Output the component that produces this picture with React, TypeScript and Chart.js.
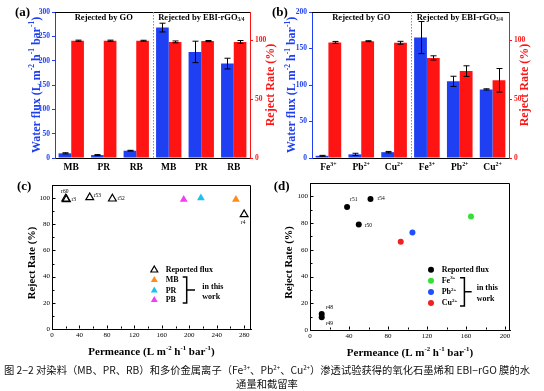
import React, { useEffect, useRef } from 'react';
import { Chart, registerables } from 'chart.js';

Chart.register(...registerables);

const SERIF = '"Liberation Serif", "Times New Roman", serif';
const BLUE = '#1e3ff2';
const RED = '#ff1414';
const BLACK = '#000000';

// ---------------- Data ----------------
// (a) dyes
const dyeCategories = ['MB', 'PR', 'RB', 'MB', 'PR', 'RB'];
const dyeFlux = [9.6, 6, 15, 268, 218, 194];
const dyeFluxErr = [1.2, 1, 0.8, 9, 22, 11];
const dyeReject = [99.6, 99.6, 99.6, 98.6, 99.3, 98.6];
const dyeRejectErr = [0.5, 0.5, 0.4, 0.8, 0.5, 1.2];
const dyeFluxTicks = [0, 50, 100, 150, 200, 250, 300];

// (b) metal ions
const ionCategories = ['Fe^{3+}', 'Pb^{2+}', 'Cu^{2+}', 'Fe^{3+}', 'Pb^{2+}', 'Cu^{2+}'];
const ionFlux = [3, 5, 8, 165, 105, 94];
const ionFluxErr = [0.6, 1.5, 1, 22, 7, 0.8];
const ionReject = [98.2, 99.2, 97.9, 85, 73.8, 66];
const ionRejectErr = [0.8, 0.4, 1.2, 1.8, 4.5, 10];
const ionFluxTicks = [0, 50, 100, 150, 200];

const rejectTicks = [0, 50, 100];
const groupLabels = ['Rejected by GO', 'Rejected by EBI-rGO_{3/4}'];
const fluxTitle = 'Water flux (L m^{-2} h^{-1} bar^{-1})';
const rejectTitle = 'Reject Rate (%)';
const permTitle = 'Permeance (L m^{-2} h^{-1} bar^{-1})';

// (c) dye comparison
const dyeRefPerm = [20, 21, 55, 88, 280];
const dyeRefReject = [99.5, 99, 100.5, 99.5, 87.5];
const dyeRefLabels = ['r60', 'r3', 'r53', 'r52', 'r4'];
const dyeWorkNames = ['MB', 'PR', 'PB'];
const dyeWorkPerm = [268, 217, 192];
const dyeWorkReject = [99, 100, 99];
const dyePermTicks = [0, 20, 40, 60, 80, 100, 120, 140, 160, 180, 200, 220, 240, 260, 280];

// (d) ion comparison
const ionRefPerm = [12, 12, 38, 62, 50];
const ionRefReject = [12, 9.5, 92, 98, 79];
const ionRefLabels = ['r48', 'r49', 'r51', 'r54', 'r50'];
const ionWorkNames = ['Fe^{3+}', 'Pb^{2+}', 'Cu^{2+}'];
const ionWorkPerm = [165, 105, 93];
const ionWorkReject = [85, 73, 66];
const ionPermTicks = [0, 20, 40, 60, 80, 100, 120, 140, 160, 180, 200];

const rejectRateTicks = [0, 10, 20, 30, 40, 50, 60, 70, 80, 90, 100];
const legendRefName = 'Reported flux';
const legendNote = ['in this', 'work'];

// ---------------- Rich text helpers ----------------
type Seg = { t: string; s?: 'sup' | 'sub' };
function parseRich(str: string): Seg[] {
  const segs: Seg[] = [];
  const re = /\^\{([^}]*)\}|_\{([^}]*)\}|[^^_]+/g;
  let m: RegExpExecArray | null;
  while ((m = re.exec(str))) {
    if (m[1] !== undefined) segs.push({ t: m[1], s: 'sup' });
    else if (m[2] !== undefined) segs.push({ t: m[2], s: 'sub' });
    else segs.push({ t: m[0] });
  }
  return segs;
}

function drawRich(
  ctx: CanvasRenderingContext2D,
  str: string,
  x: number,
  y: number,
  size: number,
  color: string,
  o: { rot?: number; align?: 'left' | 'center' | 'right'; weight?: string } = {}
) {
  const segs = parseRich(str);
  const weight = o.weight ?? 'bold';
  const fontOf = (s?: string) => `${weight} ${s ? size * 0.62 : size}px ${SERIF}`;
  ctx.save();
  ctx.translate(x, y);
  if (o.rot) ctx.rotate(o.rot);
  ctx.fillStyle = color;
  ctx.textBaseline = 'middle';
  ctx.textAlign = 'left';
  let total = 0;
  for (const g of segs) {
    ctx.font = fontOf(g.s);
    total += ctx.measureText(g.t).width;
  }
  let cx = o.align === 'left' ? 0 : o.align === 'right' ? -total : -total / 2;
  for (const g of segs) {
    ctx.font = fontOf(g.s);
    const dy = g.s === 'sup' ? -size * 0.33 : g.s === 'sub' ? size * 0.28 : 0;
    ctx.fillText(g.t, cx, dy);
    cx += ctx.measureText(g.t).width;
  }
  ctx.restore();
}

function drawMarker(ctx: CanvasRenderingContext2D, style: string, x: number, y: number, r: number, fill: string, stroke: string, lw: number) {
  ctx.save();
  ctx.beginPath();
  if (style === 'triangle') {
    ctx.moveTo(x, y - r);
    ctx.lineTo(x + 0.866 * r, y + 0.5 * r);
    ctx.lineTo(x - 0.866 * r, y + 0.5 * r);
    ctx.closePath();
  } else {
    ctx.arc(x, y, r, 0, Math.PI * 2);
  }
  ctx.fillStyle = fill;
  ctx.fill();
  if (lw > 0) {
    ctx.strokeStyle = stroke;
    ctx.lineWidth = lw;
    ctx.stroke();
  }
  ctx.restore();
}

const errorBarPlugin = {
  id: 'errbars',
  afterDatasetsDraw(chart: any) {
    const ctx = chart.ctx as CanvasRenderingContext2D;
    chart.data.datasets.forEach((ds: any, di: number) => {
      if (!ds.errors) return;
      const meta = chart.getDatasetMeta(di);
      const scale = chart.scales[meta.yAxisID];
      meta.data.forEach((el: any, i: number) => {
        const v = ds.data[i];
        const e = ds.errors[i];
        const x = Math.round(el.x) + 0.5;
        const yHi = scale.getPixelForValue(v + e);
        const yLo = scale.getPixelForValue(v - e);
        ctx.save();
        ctx.strokeStyle = BLACK;
        ctx.lineWidth = 1;
        ctx.beginPath();
        ctx.moveTo(x, yHi);
        ctx.lineTo(x, yLo);
        ctx.moveTo(x - 3, yHi);
        ctx.lineTo(x + 3, yHi);
        ctx.moveTo(x - 3, yLo);
        ctx.lineTo(x + 3, yLo);
        ctx.stroke();
        ctx.restore();
      });
    });
  },
};

// ---------------- Bar panels ----------------
interface BarPanel {
  letter: string;
  cats: string[];
  flux: number[];
  fluxErr: number[];
  reject: number[];
  rejectErr: number[];
  fluxTicks: number[];
  box: { left: number; right: number; top: number; bottom: number };
  leftTitleDx: number;
  rightTitleDx: number;
}

function makeBarChart(canvas: HTMLCanvasElement, p: BarPanel) {
  const deco = {
    id: 'deco',
    afterDraw(chart: any) {
      const ctx = chart.ctx as CanvasRenderingContext2D;
      const ca = chart.chartArea;
      const xs = chart.scales.x;
      const mid = (xs.getPixelForValue(2) + xs.getPixelForValue(3)) / 2;
      ctx.save();
      ctx.strokeStyle = BLACK;
      ctx.lineWidth = 1;
      ctx.beginPath();
      ctx.moveTo(ca.left, Math.round(ca.top) + 0.5);
      ctx.lineTo(ca.right, Math.round(ca.top) + 0.5);
      ctx.stroke();
      ctx.strokeStyle = '#8a8a8a';
      ctx.setLineDash([1.5, 1.5]);
      ctx.beginPath();
      ctx.moveTo(Math.round(mid) + 0.5, ca.top);
      ctx.lineTo(Math.round(mid) + 0.5, ca.bottom);
      ctx.stroke();
      ctx.restore();
      drawRich(ctx, groupLabels[0], (ca.left + mid) / 2, ca.top + 5.5, 8.5, BLACK);
      drawRich(ctx, groupLabels[1], (mid + ca.right) / 2, ca.top + 5.5, 8.5, BLACK);
      drawRich(ctx, p.letter, ca.left - 40, ca.top + 0.5, 13, BLACK, { align: 'left' });
      const cy = (ca.top + ca.bottom) / 2;
      drawRich(ctx, fluxTitle, ca.left - p.leftTitleDx, cy, 12, BLUE, { rot: -Math.PI / 2 });
      drawRich(ctx, rejectTitle, ca.right + p.rightTitleDx, cy, 12, RED, { rot: -Math.PI / 2 });
      p.cats.forEach((c, i) => drawRich(ctx, c, xs.getPixelForValue(i), ca.bottom + 10, 9.5, BLACK));
    },
  };
  const tickFont = { family: SERIF, size: 7.5, weight: 'bold' as const };
  return new Chart(canvas, {
    type: 'bar',
    data: {
      labels: p.cats,
      datasets: [
        { label: 'flux', data: p.flux, errors: p.fluxErr, backgroundColor: BLUE, yAxisID: 'y', categoryPercentage: 0.78, barPercentage: 1 } as any,
        { label: 'reject', data: p.reject, errors: p.rejectErr, backgroundColor: RED, yAxisID: 'y2', categoryPercentage: 0.78, barPercentage: 1 } as any,
      ],
    },
    options: {
      responsive: false,
      animation: false,
      layout: { padding: { top: p.box.top, left: 0, right: 0, bottom: 0 } },
      plugins: { legend: { display: false }, tooltip: { enabled: false } },
      scales: {
        x: {
          type: 'category',
          grid: { display: false, drawTicks: false },
          border: { color: BLACK },
          ticks: { display: false },
          afterFit: (s: any) => { s.height = p.box.bottom; },
        },
        y: {
          position: 'left',
          min: 0,
          max: p.fluxTicks[p.fluxTicks.length - 1],
          afterBuildTicks: (s: any) => { s.ticks = p.fluxTicks.map((v) => ({ value: v })); },
          ticks: { color: BLUE, font: tickFont, padding: 2 },
          grid: { drawOnChartArea: false, color: BLUE, tickLength: 3 },
          border: { color: BLUE },
          afterFit: (s: any) => { s.width = p.box.left; },
        },
        y2: {
          position: 'right',
          min: 0,
          max: 124,
          afterBuildTicks: (s: any) => { s.ticks = rejectTicks.map((v) => ({ value: v })); },
          ticks: { color: RED, font: tickFont, padding: 2 },
          grid: { drawOnChartArea: false, color: RED, tickLength: 3 },
          border: { color: RED },
          afterFit: (s: any) => { s.width = p.box.right; },
        },
      },
    } as any,
    plugins: [errorBarPlugin, deco],
  });
}

// ---------------- Scatter panels ----------------
interface LabelPos { dx: number; dy: number; align: 'left' | 'center' }
interface LegendSpec {
  markerX: number; textX: number; rowY: number[];
  bx1: number; bx2: number; armX: number; noteX: number; noteY: number[];
}
interface ScatterPanel {
  letter: string;
  letterPos: { dx: number; dy: number };
  refPerm: number[]; refReject: number[]; refLabels: string[];
  labelPos: LabelPos[];
  workNames: string[]; workPerm: number[]; workReject: number[]; workColors: string[];
  marker: 'triangle' | 'circle';
  radius: number;
  xMax: number; xTicks: number[]; xMajor: number;
  yTicks: number[]; yMajor: number;
  box: { left: number; right: number; top: number; bottom: number };
  yTitleDx: number;
  legend: LegendSpec;
}

function makeScatterChart(canvas: HTMLCanvasElement, p: ScatterPanel) {
  const hollow = p.marker === 'triangle';
  const refFill = hollow ? 'rgba(255,255,255,0)' : BLACK;
  const deco = {
    id: 'deco',
    afterDraw(chart: any) {
      const ctx = chart.ctx as CanvasRenderingContext2D;
      const ca = chart.chartArea;
      const xs = chart.scales.x;
      const ys = chart.scales.y;
      ctx.save();
      ctx.strokeStyle = BLACK;
      ctx.lineWidth = 1;
      ctx.beginPath();
      const t = Math.round(ca.top) + 0.5;
      const r = Math.round(ca.right) - 0.5;
      ctx.moveTo(ca.left, t);
      ctx.lineTo(r, t);
      ctx.lineTo(r, ca.bottom);
      // inward ticks
      const b = Math.round(ca.bottom) - 0.5;
      const l = Math.round(ca.left) + 0.5;
      p.xTicks.forEach((v) => {
        const px = Math.round(xs.getPixelForValue(v)) + 0.5;
        const len = v % p.xMajor === 0 ? 3 : 2;
        ctx.moveTo(px, b);
        ctx.lineTo(px, b - len);
      });
      p.yTicks.forEach((v) => {
        const py = Math.round(ys.getPixelForValue(v)) + 0.5;
        const len = v % p.yMajor === 0 ? 3 : 2;
        ctx.moveTo(l, py);
        ctx.lineTo(l + len, py);
      });
      ctx.stroke();
      ctx.restore();

      // point labels
      p.refLabels.forEach((lab, i) => {
        const px = xs.getPixelForValue(p.refPerm[i]);
        const py = ys.getPixelForValue(p.refReject[i]);
        const lp = p.labelPos[i];
        drawRich(ctx, lab, px + lp.dx, py + lp.dy, 5.5, BLACK, { align: lp.align, weight: 'normal' });
      });

      drawRich(ctx, p.letter, ca.left + p.letterPos.dx, ca.top + p.letterPos.dy, 13, BLACK, { align: 'left' });
      drawRich(ctx, rejectTitle, ca.left - p.yTitleDx, (ca.top + ca.bottom) / 2 + 6, 10.5, BLACK, { rot: -Math.PI / 2 });
      drawRich(ctx, permTitle, (ca.left + ca.right) / 2, ca.bottom + 23, 11, BLACK);

      // legend
      const L = p.legend;
      const mr = p.marker === 'triangle' ? 4 : 3;
      drawMarker(ctx, p.marker, ca.left + L.markerX, ca.top + L.rowY[0], mr, refFill, BLACK, hollow ? 1.2 : 0);
      drawRich(ctx, legendRefName, ca.left + L.textX, ca.top + L.rowY[0], 8, BLACK, { align: 'left' });
      p.workNames.forEach((n, i) => {
        drawMarker(ctx, p.marker, ca.left + L.markerX, ca.top + L.rowY[i + 1], mr, p.workColors[i], p.workColors[i], 0);
        drawRich(ctx, n, ca.left + L.textX, ca.top + L.rowY[i + 1], 8, BLACK, { align: 'left' });
      });
      const yTop = ca.top + L.rowY[1] - 3;
      const yBot = ca.top + L.rowY[3] + 3;
      const yMid = (yTop + yBot) / 2;
      ctx.save();
      ctx.strokeStyle = BLACK;
      ctx.lineWidth = 1.5;
      ctx.beginPath();
      ctx.moveTo(ca.left + L.bx1, yTop);
      ctx.lineTo(ca.left + L.bx2, yTop);
      ctx.lineTo(ca.left + L.bx2, yBot);
      ctx.lineTo(ca.left + L.bx1, yBot);
      ctx.moveTo(ca.left + L.bx2, yMid);
      ctx.lineTo(ca.left + L.armX, yMid);
      ctx.stroke();
      ctx.restore();
      drawRich(ctx, legendNote[0], ca.left + L.noteX, ca.top + L.noteY[0], 8, BLACK, { align: 'left' });
      drawRich(ctx, legendNote[1], ca.left + L.noteX, ca.top + L.noteY[1], 8, BLACK, { align: 'left' });
    },
  };

  const tickFont = { family: SERIF, size: 7 };
  const datasets: any[] = [
    {
      label: 'reported',
      data: p.refPerm.map((x, i) => ({ x, y: p.refReject[i] })),
      pointStyle: p.marker,
      pointRadius: p.radius,
      backgroundColor: refFill,
      borderColor: BLACK,
      borderWidth: hollow ? 1.2 : 0,
    },
    ...p.workNames.map((n, i) => ({
      label: n,
      data: [{ x: p.workPerm[i], y: p.workReject[i] }],
      pointStyle: p.marker,
      pointRadius: p.radius,
      backgroundColor: p.workColors[i],
      borderColor: p.workColors[i],
      borderWidth: 0,
    })),
  ];

  return new Chart(canvas, {
    type: 'scatter',
    data: { datasets },
    options: {
      responsive: false,
      animation: false,
      layout: { padding: { top: p.box.top, left: 0, right: p.box.right, bottom: 0 } },
      plugins: { legend: { display: false }, tooltip: { enabled: false } },
      scales: {
        x: {
          type: 'linear',
          min: 0,
          max: p.xMax,
          afterBuildTicks: (s: any) => { s.ticks = p.xTicks.map((v) => ({ value: v })); },
          ticks: {
            callback: (v: any) => (v % p.xMajor === 0 ? String(v) : ''),
            font: tickFont, color: BLACK, padding: 2, autoSkip: false, maxRotation: 0,
          },
          grid: { display: false, drawTicks: false },
          border: { color: BLACK },
          afterFit: (s: any) => { s.height = p.box.bottom; },
        },
        y: {
          type: 'linear',
          min: 0,
          max: 110,
          afterBuildTicks: (s: any) => { s.ticks = p.yTicks.map((v) => ({ value: v })); },
          ticks: {
            callback: (v: any) => (v % p.yMajor === 0 ? String(v) : ''),
            font: tickFont, color: BLACK, padding: 2, autoSkip: false,
          },
          grid: { display: false, drawTicks: false },
          border: { color: BLACK },
          afterFit: (s: any) => { s.width = p.box.left; },
        },
      },
    } as any,
    plugins: [deco],
  });
}

// ---------------- Panels ----------------
const panelA: BarPanel = {
  letter: '(a)', cats: dyeCategories, flux: dyeFlux, fluxErr: dyeFluxErr,
  reject: dyeReject, rejectErr: dyeRejectErr, fluxTicks: dyeFluxTicks,
  box: { left: 55, right: 32, top: 12, bottom: 20 }, leftTitleDx: 18.5, rightTitleDx: 21,
};
const panelB: BarPanel = {
  letter: '(b)', cats: ionCategories, flux: ionFlux, fluxErr: ionFluxErr,
  reject: ionReject, rejectErr: ionRejectErr, fluxTicks: ionFluxTicks,
  box: { left: 40, right: 35, top: 12, bottom: 20 }, leftTitleDx: 20, rightTitleDx: 16,
};
const panelC: ScatterPanel = {
  letter: '(c)', letterPos: { dx: -35, dy: 2 },
  refPerm: dyeRefPerm, refReject: dyeRefReject, refLabels: dyeRefLabels,
  labelPos: [
    { dx: -1, dy: -7, align: 'center' },
    { dx: 5, dy: 0, align: 'left' },
    { dx: 4, dy: -2, align: 'left' },
    { dx: 5, dy: 0, align: 'left' },
    { dx: -1, dy: 8, align: 'center' },
  ],
  workNames: dyeWorkNames, workPerm: dyeWorkPerm, workReject: dyeWorkReject,
  workColors: ['#ff8c1a', '#1ec0f0', '#f53cf5'],
  marker: 'triangle', radius: 4.5,
  xMax: 290, xTicks: dyePermTicks, xMajor: 40, yTicks: rejectRateTicks, yMajor: 20,
  box: { left: 52, right: 21, top: 10, bottom: 31 }, yTitleDx: 19.5,
  legend: { markerX: 102.3, textX: 113.7, rowY: [85, 95, 105.5, 115], bx1: 130.7, bx2: 134.7, armX: 143, noteX: 150.3, noteY: [101.7, 112.3] },
};
const panelD: ScatterPanel = {
  letter: '(d)', letterPos: { dx: -36.3, dy: 4 },
  refPerm: ionRefPerm, refReject: ionRefReject, refLabels: ionRefLabels,
  labelPos: [
    { dx: 4, dy: -6, align: 'left' },
    { dx: 4, dy: 6, align: 'left' },
    { dx: 3, dy: -7, align: 'left' },
    { dx: 7, dy: 0, align: 'left' },
    { dx: 6, dy: 1, align: 'left' },
  ],
  workNames: ionWorkNames, workPerm: ionWorkPerm, workReject: ionWorkReject,
  workColors: ['#33e033', '#1f4fff', '#ee2020'],
  marker: 'circle', radius: 3,
  xMax: 205, xTicks: ionPermTicks, xMajor: 40, yTicks: rejectRateTicks, yMajor: 20,
  box: { left: 38, right: 34, top: 8, bottom: 30 }, yTitleDx: 21,
  legend: { markerX: 121, textX: 131.7, rowY: [86.7, 97.7, 109, 120], bx1: 150, bx2: 154.4, armX: 161.7, noteX: 166.7, noteY: [105, 115.7] },
};

export default function App() {
  const refA = useRef<HTMLCanvasElement>(null);
  const refB = useRef<HTMLCanvasElement>(null);
  const refC = useRef<HTMLCanvasElement>(null);
  const refD = useRef<HTMLCanvasElement>(null);

  useEffect(() => {
    Chart.defaults.font.family = SERIF;
    const charts = [
      makeBarChart(refA.current!, panelA),
      makeBarChart(refB.current!, panelB),
      makeScatterChart(refC.current!, panelC),
      makeScatterChart(refD.current!, panelD),
    ];
    return () => charts.forEach((c) => c.destroy());
  }, []);

  const cv = (left: number, top: number, w: number, h: number): React.CSSProperties => ({
    position: 'absolute', left, top, width: w, height: h,
  });
  const supStyle: React.CSSProperties = { fontSize: '0.6em', lineHeight: 0, verticalAlign: '0.6em' };

  return (
    <div style={{ position: 'fixed', left: 0, top: 0, width: 544, height: 391, background: '#fff', overflow: 'hidden' }}>
      <canvas ref={refA} width={282} height={178} style={cv(0, 0, 282, 178)} />
      <canvas ref={refB} width={272} height={178} style={cv(272, 0, 272, 178)} />
      <canvas ref={refC} width={272} height={185} style={cv(0, 175, 272, 185)} />
      <canvas ref={refD} width={272} height={185} style={cv(272, 175, 272, 185)} />
      <div
        style={{
          position: 'absolute', left: 2, top: 363, width: 530, textAlign: 'center',
          fontFamily: '"Noto Sans CJK SC", sans-serif', fontSize: 10.3, lineHeight: '13.5px',
          color: '#111', whiteSpace: 'nowrap',
        }}
      >
        图 2−2  对染料（MB、PR、RB）和多价金属离子（Fe<sup style={supStyle}>3+</sup>、Pb<sup style={supStyle}>2+</sup>、Cu<sup style={supStyle}>2+</sup>）渗透试验获得的氧化石墨烯和 EBI−rGO 膜的水
        <br />
        通量和截留率
      </div>
    </div>
  );
}
